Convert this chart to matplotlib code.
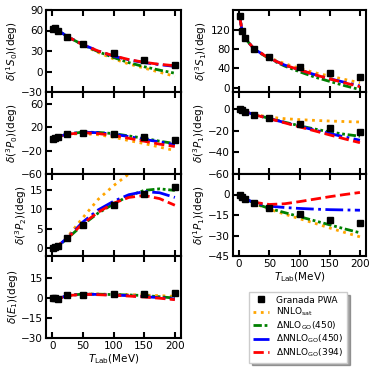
import matplotlib
matplotlib.use('Agg')
import matplotlib.pyplot as plt

# Granada PWA energies and phase shifts
e_pwa = [1, 5, 10, 25, 50, 100, 150, 200]
pwa_1s0 = [62.1, 63.6, 60.0, 50.9, 40.5, 26.8, 16.9, 8.9]
pwa_3p0 = [0.2, 1.6, 3.7, 8.1, 10.7, 8.5, 3.7, -1.4]
pwa_3p2 = [0.01, 0.22, 0.65, 2.5, 5.9, 11.0, 14.0, 15.6]
pwa_e1 = [0.0, -0.3, -0.7, 1.8, 2.1, 2.4, 3.0, 3.4]
pwa_3s1 = [147.7, 118.2, 102.6, 80.6, 62.8, 43.2, 30.9, 21.2]
pwa_3p1 = [-0.1, -0.9, -2.1, -4.9, -8.3, -13.2, -17.5, -21.3]
pwa_1p1 = [-0.2, -1.5, -3.1, -6.4, -9.7, -14.5, -18.7, -21.2]

# model curves (energies in MeV)
e_th = [1, 5, 10, 25, 50, 75, 100, 125, 150, 175, 200]

sat_1s0 = [62, 63.5, 60, 51, 38.5, 28, 18.5, 11, 5, -1, -7]
nlo_1s0 = [62, 63.5, 60, 51, 39, 29, 20.5, 13, 7, 2, -2.5]
nnlo450_1s0 = [62, 63.5, 60, 51, 39.5, 30, 22.5, 17, 13, 10, 7.5]
nnlo394_1s0 = [62, 63.5, 60, 51, 39.5, 30, 23, 17.5, 13.5, 10.5, 8.5]

sat_3p0 = [0.2, 1.7, 3.7, 8, 9, 7, 3, -3, -8, -14, -20]
nlo_3p0 = [0.2, 1.7, 3.7, 8.2, 11.5, 11, 9, 5, 1, -4, -8]
nnlo450_3p0 = [0.2, 1.7, 3.7, 8.2, 11.5, 10.5, 8, 4, -1, -5, -10]
nnlo394_3p0 = [0.2, 1.7, 3.7, 8, 10.5, 9, 6, 1, -4, -9, -13]

sat_3p2 = [0.01, 0.2, 0.7, 2.9, 7.8, 12.5, 16, 19, 21.5, 23.5, 25]
nlo_3p2 = [0.01, 0.2, 0.6, 2.5, 6.0, 9.0, 11.3, 13.4, 14.8, 15.2, 14.8]
nnlo450_3p2 = [0.01, 0.2, 0.65, 2.7, 6.7, 9.8, 12, 13.7, 14.5, 14.2, 13]
nnlo394_3p2 = [0.01, 0.2, 0.65, 2.6, 6.3, 9.2, 11.5, 13, 13.5, 12.7, 11]

sat_e1 = [0.1, -0.2, -0.6, 1.7, 2.8, 2.7, 2.5, 2.3, 2.0, 1.5, 1.0]
nlo_e1 = [0.1, -0.2, -0.6, 1.6, 2.7, 2.6, 2.3, 2.0, 1.6, 0.7, -0.3]
nnlo450_e1 = [0.1, -0.2, -0.6, 1.6, 2.6, 2.4, 2.0, 1.5, 0.8, 0, -1]
nnlo394_e1 = [0.1, -0.2, -0.6, 1.5, 2.5, 2.2, 1.8, 1.2, 0.5, -0.4, -1.5]

sat_3s1 = [147.7, 118, 102.5, 80, 62, 50, 40, 31, 24, 17, 10]
nlo_3s1 = [147.7, 118, 102.5, 79.5, 60, 45, 33, 22, 13, 4, -4]
nnlo450_3s1 = [147.7, 118, 102.5, 80, 61, 47, 37, 27, 18.5, 11, 3.5]
nnlo394_3s1 = [147.7, 118, 102.5, 80, 61, 47, 37, 27, 18, 10, 2]

sat_3p1 = [-0.1, -0.9, -2.0, -4.7, -7.3, -8.7, -9.6, -10.3, -10.9, -11.4, -11.8]
nlo_3p1 = [-0.1, -0.9, -2.0, -4.9, -8.4, -11.9, -15.3, -18.3, -21, -23.2, -25]
nnlo450_3p1 = [-0.1, -0.9, -2.1, -5.0, -8.6, -12.2, -15.8, -19.3, -22.5, -25.7, -28.7]
nnlo394_3p1 = [-0.1, -0.9, -2.1, -5.0, -8.7, -12.5, -16.3, -20, -23.8, -27.5, -31]

sat_1p1 = [-0.2, -1.5, -3.1, -6.5, -10.8, -14.3, -17.7, -21, -24.5, -27.8, -31]
nlo_1p1 = [-0.2, -1.5, -3.1, -6.4, -10.2, -13.2, -16.2, -19.2, -22.2, -25.2, -28]
nnlo450_1p1 = [-0.2, -1.5, -3.0, -6.0, -8.5, -9.5, -10.2, -10.7, -11.1, -11.3, -11.5]
nnlo394_1p1 = [-0.2, -1.5, -3.0, -5.7, -7.3, -6.8, -5.2, -3.4, -1.6, 0, 1.5]

labels = ['Granada PWA', r'NNLO$_{\rm sat}$', r'$\Delta$NLO$_{\rm GO}$(450)',
          r'$\Delta$NNLO$_{\rm GO}$(450)', r'$\Delta$NNLO$_{\rm GO}$(394)']

plt.rcParams['font.size'] = 7.5
plt.rcParams['mathtext.fontset'] = 'dejavusans'

fig = plt.figure(figsize=(3.74, 3.74), dpi=100)

W = 374.0
ph = 82 / W


def panel(xl, xr, top_px, idx):
    b = 1 - (top_px + (idx + 1) * 82) / W
    return fig.add_axes([xl / W, b, (xr - xl) / W, ph])


def draw(ax, pwa, sat, nlo, n450, n394, ylim, yticks, ylab, xlab=False):
    ax.plot(e_th, sat, color='orange', ls=':', lw=2, label=labels[1])
    ax.plot(e_th, nlo, color='green', ls=(0, (3, 1, 1, 1, 1, 1)), lw=2, label=labels[2])
    ax.plot(e_th, n450, color='blue', ls='-.', lw=2, label=labels[3])
    ax.plot(e_th, n394, color='red', ls='--', lw=2, label=labels[4])
    ax.plot(e_pwa, pwa, 's', color='black', ms=5, label=labels[0], zorder=5)
    ax.set_xlim(-10, 210)
    ax.set_ylim(*ylim)
    ax.set_yticks(yticks)
    ax.set_xticks([0, 50, 100, 150, 200])
    ax.tick_params(direction='in', top=True, width=1.5, length=4, pad=2)
    for s in ax.spines.values():
        s.set_linewidth(1.5)
    ax.set_ylabel(ylab, labelpad=1)
    if xlab:
        ax.set_xlabel(r'$T_{\rm Lab}$(MeV)', labelpad=1)
    else:
        ax.set_xticklabels([])


ax = panel(46, 181, 10, 0)
draw(ax, pwa_1s0, sat_1s0, nlo_1s0, nnlo450_1s0, nnlo394_1s0,
     (-30, 90), [-30, 0, 30, 60, 90], r'$\delta(^1S_0)$(deg)')
ax = panel(46, 181, 10, 1)
draw(ax, pwa_3p0, sat_3p0, nlo_3p0, nnlo450_3p0, nnlo394_3p0,
     (-60, 80), [-60, -20, 20, 60], r'$\delta(^3P_0)$(deg)')
ax = panel(46, 181, 10, 2)
draw(ax, pwa_3p2, sat_3p2, nlo_3p2, nnlo450_3p2, nnlo394_3p2,
     (-2, 19), [0, 5, 10, 15], r'$\delta(^3P_2)$(deg)')
ax = panel(46, 181, 10, 3)
draw(ax, pwa_e1, sat_e1, nlo_e1, nnlo450_e1, nnlo394_e1,
     (-30, 31), [-30, -15, 0, 15], r'$\delta(E_1)$(deg)', xlab=True)

ax = panel(233, 366, 10, 0)
draw(ax, pwa_3s1, sat_3s1, nlo_3s1, nnlo450_3s1, nnlo394_3s1,
     (-9, 161), [0, 40, 80, 120], r'$\delta(^3S_1)$(deg)')
ax = panel(233, 366, 10, 1)
draw(ax, pwa_3p1, sat_3p1, nlo_3p1, nnlo450_3p1, nnlo394_3p1,
     (-60, 16), [-60, -40, -20, 0], r'$\delta(^3P_1)$(deg)')
ax = panel(233, 366, 10, 2)
draw(ax, pwa_1p1, sat_1p1, nlo_1p1, nnlo450_1p1, nnlo394_1p1,
     (-45, 15), [-45, -30, -15, 0], r'$\delta(^1P_1)$(deg)', xlab=True)

handles, labs = ax.get_legend_handles_labels()
order = [4, 0, 1, 2, 3]
fig.legend([handles[i] for i in order], [labs[i] for i in order],
           loc='upper left', bbox_to_anchor=(249 / W, 1 - 292 / W),
           borderaxespad=0, fontsize=6.5, shadow=True, fancybox=False,
           handlelength=1.8, handletextpad=0.8, borderpad=0.4,
           labelspacing=0.12, markerscale=0.8)

fig.savefig('out.png', dpi=100)
